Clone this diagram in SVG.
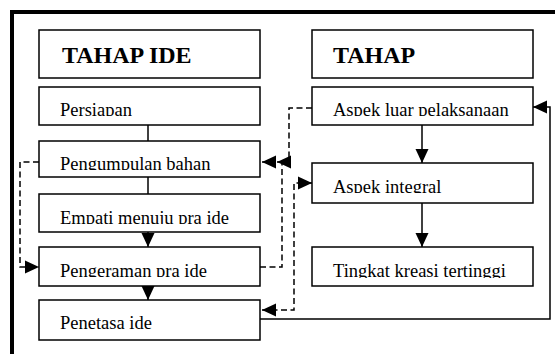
<svg xmlns="http://www.w3.org/2000/svg" width="555" height="354" viewBox="0 0 555 354">
<style>
.box{fill:#fff;stroke:#000;stroke-width:1.5}
.t{font-family:"Liberation Serif","Times New Roman",serif;font-size:18.5px;fill:#000}
.h{font-family:"Liberation Serif","Times New Roman",serif;font-size:24px;font-weight:bold;fill:#000}
.c{fill:none;stroke:#000;stroke-width:1.5}
.d{fill:none;stroke:#000;stroke-width:1.5;stroke-dasharray:6,3.5}
</style>
<defs>
<marker id="ah" markerUnits="userSpaceOnUse" markerWidth="14" markerHeight="14" refX="14" refY="7" orient="auto-start-reverse" viewBox="0 0 14 14">
<path d="M0,0.5 L14,7 L0,13.5 z" fill="#000"/>
</marker>
<clipPath id="clip" clipPathUnits="userSpaceOnUse">
<rect x="40" y="88" width="219" height="28"/>
<rect x="40" y="142" width="219" height="28"/>
<rect x="40" y="195" width="219" height="29"/>
<rect x="40" y="248" width="219" height="29"/>
<rect x="40" y="301" width="219" height="30"/>
<rect x="313" y="88" width="219" height="28"/>
<rect x="313" y="164" width="219" height="29"/>
<rect x="313" y="248" width="219" height="30"/>
</clipPath>
</defs>
<rect width="555" height="354" fill="#fff"/>
<path d="M12,354 V12 H555" fill="none" stroke="#000" stroke-width="4"/>

<g id="connectors">
<line class="c" x1="148" y1="125" x2="148" y2="141"/>
<line class="c" x1="148" y1="177" x2="148" y2="194"/>
<line class="c" x1="148" y1="232" x2="148" y2="247" marker-end="url(#ah)"/>
<line class="c" x1="148" y1="286" x2="148" y2="300" marker-end="url(#ah)"/>
<line class="c" x1="422" y1="125" x2="422" y2="163" marker-end="url(#ah)"/>
<line class="c" x1="422" y1="203" x2="422" y2="247" marker-end="url(#ah)"/>
<path class="c" d="M260,319 H550 V107 H533" marker-end="url(#ah)"/>
<path class="d" d="M312,108 H289 V162 H277" marker-end="url(#ah)"/>
<path class="d" d="M260,267 H282 V162 H262" marker-end="url(#ah)"/>
<path class="d" d="M262,310 H294 V183 H312" marker-start="url(#ah)" marker-end="url(#ah)"/>
<path class="d" d="M39,162 H20 V267 H39" marker-end="url(#ah)"/>
</g>

<g id="tahap-ide">
<rect class="box" x="39" y="30" width="221" height="48"/>
<text class="h" x="62" y="63">TAHAP IDE</text>
</g>
<g id="persiapan">
<rect class="box" x="39" y="87" width="221" height="38"/>
<text class="t" x="60" y="115.5" clip-path="url(#clip)">Persiapan</text>
</g>
<g id="pengumpulan">
<rect class="box" x="39" y="141" width="221" height="36"/>
<text class="t" x="60" y="169.5" clip-path="url(#clip)">Pengumpulan bahan</text>
</g>
<g id="empati">
<rect class="box" x="39" y="194" width="221" height="38"/>
<text class="t" x="60" y="223.5" clip-path="url(#clip)">Empati menuju pra ide</text>
</g>
<g id="pengeraman">
<rect class="box" x="39" y="247" width="221" height="39"/>
<text class="t" x="60" y="276.5" clip-path="url(#clip)">Pengeraman pra ide</text>
</g>
<g id="penetasa">
<rect class="box" x="39" y="300" width="221" height="40"/>
<text class="t" x="60" y="329" clip-path="url(#clip)">Penetasa ide</text>
</g>

<g id="tahap">
<rect class="box" x="312" y="30" width="221" height="48"/>
<text class="h" x="333" y="63">TAHAP</text>
</g>
<g id="aspek-luar">
<rect class="box" x="312" y="87" width="221" height="38"/>
<text class="t" x="333" y="115.5" clip-path="url(#clip)">Aspek luar pelaksanaan</text>
</g>
<g id="aspek-integral">
<rect class="box" x="312" y="163" width="221" height="40"/>
<text class="t" x="333" y="192.5" clip-path="url(#clip)">Aspek integral</text>
</g>
<g id="tingkat">
<rect class="box" x="312" y="247" width="221" height="39"/>
<text class="t" x="333" y="277" clip-path="url(#clip)">Tingkat kreasi tertinggi</text>
</g>
</svg>
